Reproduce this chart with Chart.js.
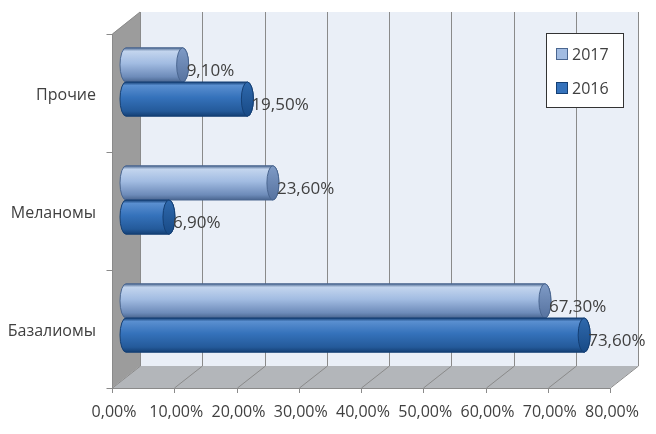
<!DOCTYPE html>
<html>
<head>
<meta charset="utf-8">
<script src="https://cdn.jsdelivr.net/npm/chart.js@4"></script>
<style>
  html, body { margin: 0; background: #fff; }
  #wrap { width: 656px; height: 434px; }
</style>
</head>
<body>
<div id="wrap"><canvas id="grafico"></canvas></div>
<script>
// datos
const categorias = ['Прочие', 'Меланомы', 'Базалиомы'];
const series = ['2017', '2016'];
const valores2017 = [9.1, 23.6, 67.3];
const valores2016 = [19.5, 6.9, 73.6];
const ticksX = [0, 10, 20, 30, 40, 50, 60, 70, 80];

// estilos de los cilindros
const colores = [
  { borde: '#4a6690', claro: '#c3d5ee', medio: '#a2bce2', oscuro: '#6d8bb9', tapa: '#56729f', tapa2: '#7f9bc6' },
  { borde: '#143f74', claro: '#5a8fd0', medio: '#3572bb', oscuro: '#245a9a', tapa: '#184a86', tapa2: '#2f69ad' }
];
const D = { dx: 14, dy: 11 };   // media profundidad 3D

const fmt = v => v.toFixed(2).replace('.', ',') + '%';

function cilindro(ctx, x0, x1, yc, h, c) {
  const ry = h / 2, rx = 6;
  const top = yc - ry, bot = yc + ry;
  const g = ctx.createLinearGradient(0, top, 0, bot);
  g.addColorStop(0, c.borde);
  g.addColorStop(0.1, c.claro);
  g.addColorStop(0.45, c.medio);
  g.addColorStop(0.85, c.oscuro);
  g.addColorStop(1, c.borde);
  ctx.beginPath();
  ctx.moveTo(x0, top);
  ctx.lineTo(x1, top);
  ctx.ellipse(x1, yc, rx, ry, 0, -Math.PI / 2, Math.PI / 2);
  ctx.lineTo(x0, bot);
  ctx.ellipse(x0, yc, rx, ry, 0, Math.PI / 2, Math.PI * 1.5);
  ctx.closePath();
  ctx.fillStyle = g;
  ctx.fill();
  ctx.strokeStyle = c.borde;
  ctx.lineWidth = 1;
  ctx.stroke();
  // tapa
  const g2 = ctx.createLinearGradient(0, top, 0, bot);
  g2.addColorStop(0, c.tapa2);
  g2.addColorStop(1, c.tapa);
  ctx.beginPath();
  ctx.ellipse(x1, yc, rx, ry, 0, 0, Math.PI * 2);
  ctx.fillStyle = g2;
  ctx.fill();
  ctx.stroke();
}

const sinPadding = s => { s.paddingLeft = 0; s.paddingRight = 0; s.paddingTop = 0; s.paddingBottom = 0; };

const paredes = {
  id: 'paredes',
  beforeDatasetsDraw(chart) {
    const { ctx, chartArea: a, scales: { x } } = chart;
    const x0 = x.getPixelForValue(ticksX[0]);
    const x1 = x.getPixelForValue(ticksX[ticksX.length - 1]);
    ctx.save();
    // pared del fondo
    ctx.fillStyle = '#eaeff7';
    ctx.fillRect(x0 + D.dx, a.top - D.dy, x1 - x0, a.bottom - a.top);
    // suelo
    ctx.fillStyle = '#b3b6ba';
    ctx.beginPath();
    ctx.moveTo(x0 + D.dx, a.bottom - D.dy);
    ctx.lineTo(x1 + D.dx, a.bottom - D.dy);
    ctx.lineTo(x1 - D.dx, a.bottom + D.dy);
    ctx.lineTo(x0 - D.dx, a.bottom + D.dy);
    ctx.closePath();
    ctx.fill();
    // pared izquierda
    ctx.fillStyle = '#9c9c9c';
    ctx.beginPath();
    ctx.moveTo(x0 + D.dx, a.top - D.dy);
    ctx.lineTo(x0 + D.dx, a.bottom - D.dy);
    ctx.lineTo(x0 - D.dx, a.bottom + D.dy);
    ctx.lineTo(x0 - D.dx, a.top + D.dy);
    ctx.closePath();
    ctx.fill();
    // rejilla
    ctx.strokeStyle = '#8a8a8a';
    ctx.lineWidth = 1;
    ticksX.forEach(v => {
      const px = Math.round(x.getPixelForValue(v)) + 0.5;
      ctx.beginPath();
      ctx.moveTo(px + D.dx, a.top - D.dy);
      ctx.lineTo(px + D.dx, a.bottom - D.dy);
      ctx.lineTo(px - D.dx, a.bottom + D.dy);
      ctx.lineTo(px - D.dx, a.bottom + D.dy + 5);
      ctx.stroke();
    });
    // ejes frontales
    const fx = Math.round(x0 - D.dx) + 0.5;
    const fy = Math.round(a.bottom + D.dy) + 0.5;
    ctx.beginPath();
    ctx.moveTo(x1 - D.dx, fy);
    ctx.lineTo(fx, fy);
    ctx.lineTo(fx, a.top + D.dy);
    ctx.lineTo(x0 + D.dx, a.top - D.dy);
    ctx.stroke();
    const paso = (a.bottom - a.top) / categorias.length;
    for (let i = 0; i <= categorias.length; i++) {
      const ty = Math.round(a.top + D.dy + i * paso) + 0.5;
      ctx.beginPath();
      ctx.moveTo(fx - 6, ty);
      ctx.lineTo(fx, ty);
      ctx.stroke();
    }
    ctx.restore();
  },
  afterDatasetsDraw(chart) {
    const ctx = chart.ctx;
    ctx.save();
    chart.data.datasets.forEach((ds, i) => {
      const meta = chart.getDatasetMeta(i);
      meta.data.forEach((bar, j) => {
        const p = bar.getProps(['x', 'y', 'base', 'height'], true);
        cilindro(ctx, p.base, p.x, p.y, p.height, colores[i]);
      });
    });
    // etiquetas de datos
    ctx.font = '17px "Open Sans"';
    ctx.fillStyle = '#404040';
    ctx.textBaseline = 'middle';
    ctx.textAlign = 'left';
    chart.data.datasets.forEach((ds, i) => {
      chart.getDatasetMeta(i).data.forEach((bar, j) => {
        const p = bar.getProps(['x', 'y'], true);
        ctx.fillText(fmt(ds.data[j]), p.x + 4, p.y + 6);
      });
    });
    // leyenda
    const lx = 546, ly = 33, lw = 77, lh = 74;
    ctx.font = '16px "Open Sans"';
    ctx.fillStyle = '#fff';
    ctx.fillRect(lx, ly, lw, lh);
    ctx.strokeStyle = '#333';
    ctx.strokeRect(lx + 0.5, ly + 0.5, lw, lh);
    chart.data.datasets.forEach((ds, i) => {
      const cy = ly + 21 + i * 34;
      ctx.fillStyle = colores[i].medio;
      ctx.fillRect(lx + 10.5, cy - 5.5, 11, 11);
      ctx.strokeStyle = colores[i].borde;
      ctx.strokeRect(lx + 10.5, cy - 5.5, 11, 11);
      ctx.fillStyle = '#404040';
      ctx.fillText(ds.label, lx + 26, cy + 1);
    });
    ctx.restore();
  }
};

Chart.defaults.font.family = '"Open Sans", sans-serif';
Chart.defaults.font.size = 16;
Chart.defaults.color = '#404040';

const config = {
  type: 'bar',
  data: {
    labels: categorias,
    datasets: [
      { label: series[0], data: valores2017, backgroundColor: 'rgba(0,0,0,0)', borderWidth: 0 },
      { label: series[1], data: valores2016, backgroundColor: 'rgba(0,0,0,0)', borderWidth: 0 }
    ]
  },
  options: {
    indexAxis: 'y',
    responsive: true,
    maintainAspectRatio: false,
    animation: false,
    events: [],
    layout: { padding: { top: 23, right: 32, left: 0, bottom: 0 } },
    datasets: { bar: { categoryPercentage: 0.58, barPercentage: 1 } },
    plugins: { legend: { display: false }, tooltip: { enabled: false } },
    scales: {
      x: {
        min: ticksX[0],
        max: ticksX[ticksX.length - 1],
        afterBuildTicks: s => { s.ticks = ticksX.map(v => ({ value: v })); },
        afterFit: s => { s.height = 57; sinPadding(s); },
        grid: { display: false, drawTicks: false },
        border: { display: false },
        ticks: { autoSkip: false, maxRotation: 0, padding: 26, labelOffset: -12, callback: v => fmt(v) }
      },
      y: {
        afterFit: s => { s.width = 126; sinPadding(s); },
        grid: { display: false, drawTicks: false },
        border: { display: false },
        ticks: { padding: 30, labelOffset: 13 }
      }
    }
  },
  plugins: [paredes]
};

let grafico = new Chart(document.getElementById('grafico'), config);
</script>
</body>
</html>
